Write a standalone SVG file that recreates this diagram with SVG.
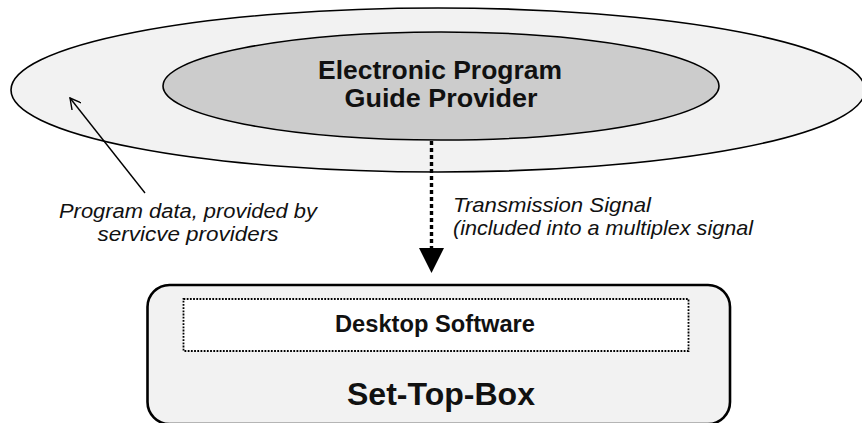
<svg xmlns="http://www.w3.org/2000/svg" width="862" height="423" viewBox="0 0 862 423">
  <style>
    .shape { stroke: #000; }
    .bold { font-weight: bold; fill: #111; }
    .note { font-style: italic; fill: #111; }
  </style>
  <defs>
    <marker id="openHead" viewBox="0 0 12 12" refX="11" refY="6" markerWidth="12" markerHeight="12" markerUnits="userSpaceOnUse" orient="auto">
      <path d="M0,0 L11,6 L0,12" fill="none" stroke="#000" stroke-width="1.4"/>
    </marker>
  </defs>
  <rect width="862" height="423" fill="#fff"/>

  <g font-family="'Liberation Sans', Arial, Helvetica, sans-serif">
  <!-- service providers ring -->
  <g id="service-providers">
    <ellipse class="shape" cx="438" cy="90" rx="427" ry="82" fill="#f2f2f2" stroke-width="1.6"/>
  </g>

  <!-- EPG provider -->
  <g id="epg-provider">
    <ellipse class="shape" cx="441" cy="86" rx="278" ry="54" fill="#cccccc" stroke-width="1.6"/>
    <text class="bold" font-size="25" text-anchor="middle" x="440" y="79" textLength="244" lengthAdjust="spacingAndGlyphs">Electronic Program</text>
    <text class="bold" font-size="25" text-anchor="middle" x="441" y="107" textLength="193" lengthAdjust="spacingAndGlyphs">Guide Provider</text>
  </g>

  <!-- set-top-box -->
  <g id="set-top-box">
    <rect class="shape" x="147.5" y="285" width="582.5" height="139" rx="22" ry="22" fill="#f2f2f2" stroke-width="2.6"/>
    <text class="bold" font-size="31" text-anchor="middle" x="441" y="405" textLength="188" lengthAdjust="spacingAndGlyphs">Set-Top-Box</text>
  </g>

  <!-- desktop software -->
  <g id="desktop-software">
    <rect x="183.5" y="299" width="505" height="52" fill="#fff" stroke="#000" stroke-width="1.8" stroke-dasharray="1.8 1.4"/>
    <text class="bold" font-size="23" text-anchor="middle" x="435" y="332" textLength="200" lengthAdjust="spacingAndGlyphs">Desktop Software</text>
  </g>

  <!-- connectors -->
  <g id="connectors">
    <line x1="431.5" y1="141" x2="431.5" y2="249" stroke="#000" stroke-width="3.4" stroke-dasharray="4 3"/>
    <polygon points="419,248 444,248 431.5,273" fill="#000"/>
    <line x1="145" y1="193" x2="70" y2="98" stroke="#000" stroke-width="1.4" marker-end="url(#openHead)"/>
  </g>

  <!-- labels -->
  <g id="labels">
    <text class="note" font-size="21" x="453" y="212" textLength="198" lengthAdjust="spacingAndGlyphs">Transmission Signal</text>
    <text class="note" font-size="21" x="453" y="235" textLength="300" lengthAdjust="spacingAndGlyphs">(included into a multiplex signal</text>
    <text class="note" font-size="20" text-anchor="middle" x="188" y="218" textLength="258" lengthAdjust="spacingAndGlyphs">Program data, provided by</text>
    <text class="note" font-size="20" text-anchor="middle" x="188" y="241" textLength="181" lengthAdjust="spacingAndGlyphs">servicve providers</text>
  </g>
  </g>
</svg>
